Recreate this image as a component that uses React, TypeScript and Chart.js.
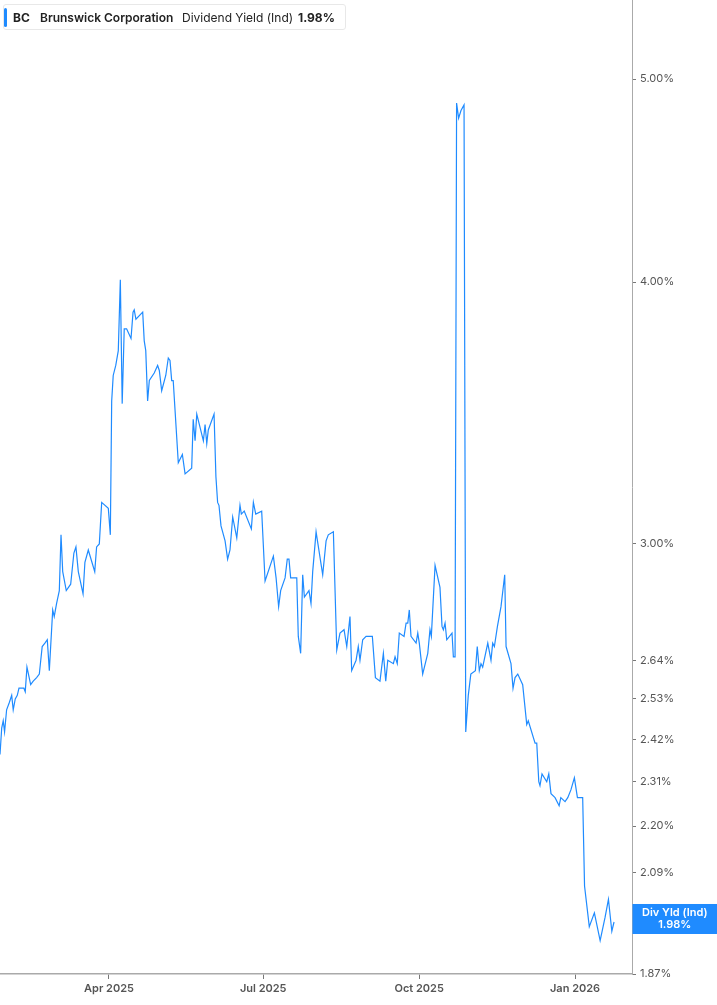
import React, { useEffect, useRef } from 'react';
import { Chart, registerables } from 'chart.js';

Chart.register(...registerables);

// Trading dates expressed as days since 2025-01-01 (approximate)
const dayOffsets = [
  25.7, 26.7, 27.6, 28.4, 29.6, 31.2, 32.6, 33.5, 34.7, 35.9, 36.9, 38.5, 39.8, 40.6, 41.6, 43.8, 45.3, 47.3, 48.9,
  50.6, 52.2, 53.6, 54.8, 56.8, 57.7, 59.1, 60.7, 61.7, 62.7, 64.8, 67.4, 69.3, 70.5, 71.9, 74.7, 75.8, 77.8, 81.6,
  82.7, 84.3, 85.7, 89.6, 90.8, 91.6, 92.5, 94.0, 95.5, 96.7, 97.8, 99.0, 100.4, 103.0, 104.2, 104.9, 105.9, 109.9,
  110.8, 111.7, 112.8, 113.8, 116.7, 118.7, 119.7, 121.1, 123.5, 125.0, 126.0, 127.0, 127.9, 130.9, 133.3, 134.9,
  138.8, 139.7, 140.8, 141.8, 145.7, 146.7, 147.7, 148.6, 152.0, 153.1, 154.1, 154.9, 156.1, 158.5, 160.0, 161.4,
  163.0, 165.4, 167.3, 168.1, 169.8, 174.0, 175.2, 176.6, 180.1, 182.1, 187.0, 188.6, 190.1, 191.3, 193.9, 195.2,
  196.2, 197.2, 200.8, 201.7, 203.1, 204.3, 205.3, 208.0, 209.2, 210.2, 212.2, 216.1, 218.1, 219.4, 222.4, 224.4,
  226.3, 228.7, 230.3, 232.2, 233.2, 235.8, 237.1, 238.1, 239.7, 241.7, 244.4, 245.4, 247.2, 249.9, 251.9, 253.3,
  254.5, 257.8, 258.8, 260.1, 261.3, 264.1, 265.3, 266.3, 267.2, 268.2, 271.2, 272.2, 273.1, 275.1, 278.1, 279.4,
  280.2, 282.4, 285.3, 286.5, 287.3, 288.3, 289.3, 292.4, 293.2, 294.2, 295.1, 296.3, 297.7, 299.5, 300.5, 302.0,
  303.5, 306.2, 307.3, 308.5, 309.5, 310.5, 313.5, 315.4, 316.4, 317.4, 319.2, 321.3, 323.5, 324.3, 327.2, 328.4,
  329.6, 331.2, 334.1, 336.5, 337.4, 341.4, 342.4, 343.6, 344.3, 345.5, 348.3, 349.5, 350.8, 353.2, 355.6, 356.6,
  359.1, 360.7, 362.6, 364.6, 366.4, 369.5, 370.6, 373.4, 376.4, 379.8, 382.7, 384.7, 386.7, 388.0,
];

// Dividend yield (%)
const yieldValues = [
  2.38, 2.45, 2.47, 2.44, 2.50, 2.52, 2.54, 2.50, 2.53, 2.54, 2.56, 2.56, 2.56, 2.55, 2.62, 2.57, 2.58, 2.59, 2.60,
  2.68, 2.69, 2.70, 2.61, 2.79, 2.77, 2.81, 2.85, 3.03, 2.91, 2.85, 2.87, 2.97, 2.99, 2.91, 2.84, 2.94, 2.98, 2.91,
  2.99, 3.00, 3.14, 3.12, 3.03, 3.51, 3.61, 3.65, 3.71, 4.01, 3.50, 3.80, 3.80, 3.76, 3.87, 3.88, 3.84, 3.87,
  3.75, 3.71, 3.51, 3.59, 3.62, 3.65, 3.63, 3.55, 3.61, 3.68, 3.67, 3.59, 3.59, 3.28, 3.31, 3.24,
  3.26, 3.44, 3.36, 3.46, 3.36, 3.42, 3.35, 3.40, 3.46, 3.23, 3.14, 3.13, 3.06, 3.01, 2.95, 2.98,
  3.09, 3.02, 3.13, 3.10, 3.11, 3.05, 3.14, 3.10, 3.11, 2.88, 2.96, 2.89, 2.80, 2.85, 2.89, 2.95,
  2.95, 2.89, 2.89, 2.71, 2.66, 2.90, 2.83, 2.85, 2.81, 2.91, 3.04, 2.90, 3.01, 3.03, 3.04, 2.67,
  2.72, 2.73, 2.68, 2.77, 2.61, 2.64, 2.68, 2.64, 2.70, 2.71, 2.71, 2.71, 2.59, 2.58, 2.66, 2.58,
  2.64, 2.63, 2.65, 2.63, 2.72, 2.71, 2.75, 2.75, 2.79, 2.71, 2.69, 2.72, 2.69, 2.60, 2.66, 2.73,
  2.71, 2.93, 2.86, 2.74, 2.73, 2.75, 2.70, 2.72, 2.65, 2.65, 4.87, 4.79, 4.83, 4.86, 2.44, 2.54,
  2.60, 2.61, 2.68, 2.61, 2.63, 2.62, 2.69, 2.64, 2.69, 2.68, 2.74, 2.80, 2.90, 2.68, 2.63, 2.56,
  2.59, 2.60, 2.57, 2.46, 2.47, 2.41, 2.41, 2.31, 2.30, 2.33, 2.31, 2.33, 2.28, 2.27, 2.25, 2.27,
  2.26, 2.27, 2.29, 2.32, 2.27, 2.27, 2.06, 1.97, 2.00, 1.94, 1.99, 2.03, 1.96, 1.98,
];

const xTickDays = [90, 181, 273, 365];
const xTickLabels = ['Apr 2025', 'Jul 2025', 'Oct 2025', 'Jan 2026'];
const yTickValues = [1.87, 1.98, 2.09, 2.2, 2.31, 2.42, 2.53, 2.64, 3.0, 4.0, 5.0];

const X_MIN = 25.7;
const X_MAX = 398.6;
const Y_MIN = 1.87;
const Y_MAX = 5.454;

const TICKER = 'BC';
const COMPANY = 'Brunswick Corporation';
const METRIC = 'Dividend Yield (Ind)';
const SHORT_METRIC = 'Div Yld (Ind)';

const BLUE = '#1f8bff';
const FONT = 'Inter, "Noto Sans", sans-serif';

export default function App() {
  const canvasRef = useRef<HTMLCanvasElement>(null);

  useEffect(() => {
    document.body.style.margin = '0';
    const canvas = canvasRef.current;
    if (!canvas) return;
    const lastValue = yieldValues[yieldValues.length - 1];

    const lastLabelPlugin = {
      id: 'lastLabel',
      afterDraw(chart: any) {
        const { ctx, chartArea, scales } = chart;
        const y = scales.y.getPixelForValue(lastValue);
        const x0 = chartArea.right + 0.5;
        const w = chart.width - x0;
        ctx.save();
        ctx.fillStyle = BLUE;
        ctx.fillRect(x0, y - 18, w, 30);
        ctx.fillStyle = '#ffffff';
        ctx.font = `600 11px ${FONT}`;
        ctx.textAlign = 'center';
        ctx.textBaseline = 'middle';
        ctx.fillText(SHORT_METRIC, x0 + w / 2, y - 9);
        ctx.fillText(lastValue.toFixed(2) + '%', x0 + w / 2, y + 2.5);
        ctx.restore();
      },
    };

    const chart = new Chart(canvas, {
      type: 'line',
      data: {
        datasets: [
          {
            data: dayOffsets.map((d, i) => ({ x: d, y: yieldValues[i] })),
            borderColor: BLUE,
            borderWidth: 1.2,
            pointRadius: 0,
            tension: 0,
            fill: false,
          },
        ],
      },
      options: {
        responsive: false,
        animation: false,
        maintainAspectRatio: false,
        layout: { padding: 0 },
        plugins: { legend: { display: false }, tooltip: { enabled: false } },
        scales: {
          x: {
            type: 'linear',
            min: X_MIN,
            max: X_MAX,
            afterBuildTicks: (s: any) => {
              s.ticks = xTickDays.map((v) => ({ value: v }));
            },
            afterFit: (s: any) => {
              s.height = 31;
              s.paddingLeft = 0;
              s.paddingRight = 0;
              s.paddingTop = 0;
              s.paddingBottom = 0;
            },
            grid: { drawOnChartArea: false, drawTicks: true, tickLength: 5, color: '#777' },
            border: { color: '#aaaaaa', width: 1.5 },
            ticks: {
              autoSkip: false,
              maxRotation: 0,
              padding: 3,
              color: '#555',
              font: { family: FONT, size: 11, weight: '600' },
              callback: (v: any) => {
                const i = xTickDays.indexOf(Number(v));
                return i >= 0 ? xTickLabels[i] : '';
              },
            },
          },
          y: {
            type: 'logarithmic',
            position: 'right',
            min: Y_MIN,
            max: Y_MAX,
            afterBuildTicks: (s: any) => {
              s.ticks = yTickValues.map((v) => ({ value: v }));
            },
            afterFit: (s: any) => {
              s.width = 85;
              s.paddingTop = 0;
              s.paddingBottom = 0;
              s.paddingLeft = 0;
              s.paddingRight = 0;
            },
            grid: { drawOnChartArea: false, drawTicks: true, tickLength: 4, color: '#777' },
            border: { color: '#aaaaaa', width: 1 },
            ticks: {
              autoSkip: false,
              padding: 4,
              color: '#555',
              font: { family: FONT, size: 11 },
              callback: (v: any) => Number(v).toFixed(2) + '%',
            },
          },
        },
      },
      plugins: [lastLabelPlugin],
    } as any);

    return () => chart.destroy();
  }, []);

  const span = (left: number, text: string, weight: number) => (
    <span style={{ position: 'absolute', left, top: 5, fontWeight: weight, whiteSpace: 'nowrap' }}>{text}</span>
  );

  return (
    <div style={{ position: 'relative', width: 717, height: 1005, background: '#fff' }}>
      <canvas ref={canvasRef} width={717} height={1005} style={{ display: 'block' }} />
      <div
        style={{
          position: 'absolute',
          left: 3,
          top: 4,
          width: 343,
          height: 26,
          background: '#fff',
          border: '1px solid #e8e8e8',
          borderRadius: 3,
          fontFamily: FONT,
          fontSize: 12,
          color: '#222',
          boxSizing: 'border-box',
        }}
      >
        <div style={{ position: 'absolute', left: 0, top: 3, width: 3, height: 19, background: BLUE, borderRadius: 2 }} />
        {span(9, TICKER, 700)}
        {span(36, COMPANY, 600)}
        {span(178, METRIC, 400)}
        {span(294, yieldValues[yieldValues.length - 1].toFixed(2) + '%', 700)}
      </div>
    </div>
  );
}
